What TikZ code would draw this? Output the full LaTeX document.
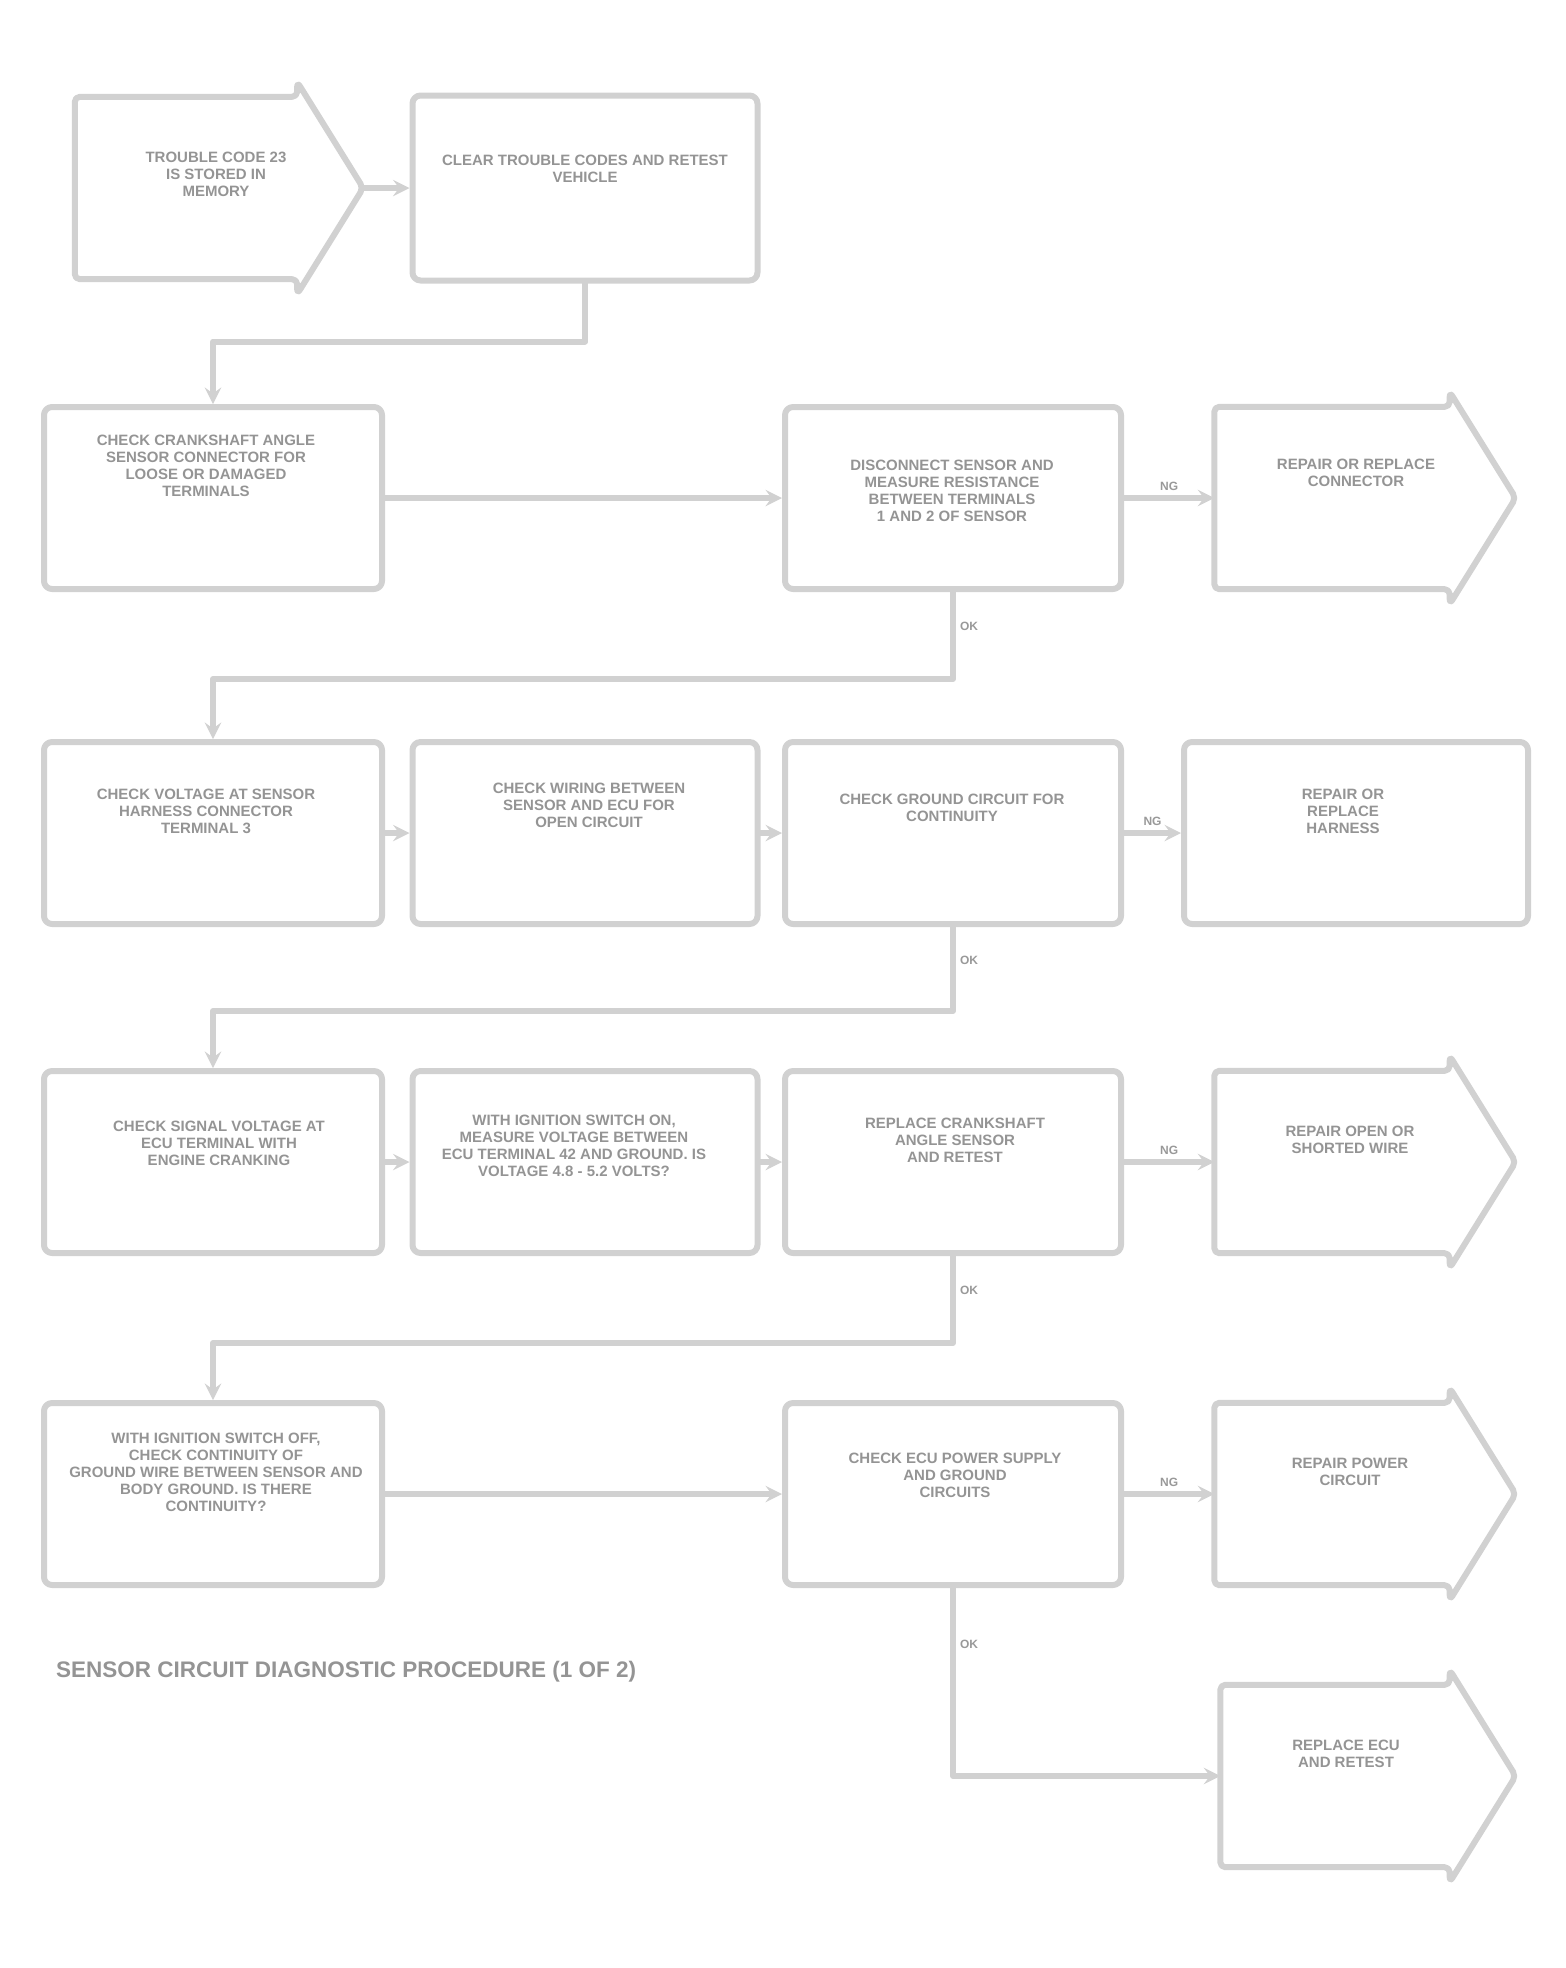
\documentclass[tikz,border=0pt]{standalone}
\usepackage{fontspec}
\setmainfont{Liberation Sans}
\begin{document}
\begin{tikzpicture}[line join=round, line cap=round, >=stealth, x=1pt, y=-1pt,
    font=\fontsize{15}{17}\selectfont\bfseries,
    box/.style={draw=black!18, line width=6pt, rounded corners=8pt, minimum width=340pt, minimum height=182pt, inner sep=0pt},
    arrowbox/.style={minimum width=300pt, minimum height=182pt, inner sep=0pt},
    txt/.style={text=black!42, align=center, inner sep=0pt},
    link/.style={draw=black!18, line width=6pt, ->},
    lbl/.style={text=black!40, font=\fontsize{12}{13}\selectfont\bfseries, inner sep=4pt}]
    \useasboundingbox (0,0) rectangle (1566,1968);
    % boxes
    \node[arrowbox, minimum width=288pt] (a) at (219,188) {};
    \node[box, minimum width=345pt, minimum height=185pt] (b) at (585,188) {};
    \node[box, minimum width=338pt] (c) at (213,498) {};
    \node[box, minimum width=336pt] (d) at (953,498) {};
    \node[arrowbox, minimum width=301pt] (e) at (1365,498) {};
    \node[box, minimum width=338pt] (f) at (213,833) {};
    \node[box, minimum width=345pt] (g) at (585,833) {};
    \node[box, minimum width=336pt] (h) at (953,833) {};
    \node[box, minimum width=344pt] (i) at (1356,833) {};
    \node[box, minimum width=338pt] (j) at (213,1162) {};
    \node[box, minimum width=345pt] (k) at (585,1162) {};
    \node[box, minimum width=336pt] (l) at (953,1162) {};
    \node[arrowbox, minimum width=301pt] (m) at (1365,1162) {};
    \node[box, minimum width=338pt] (n) at (213,1494) {};
    \node[box, minimum width=336pt] (o) at (953,1494) {};
    \node[arrowbox, minimum width=301pt] (p) at (1365,1494) {};
    \node[arrowbox, minimum width=295pt] (q) at (1368,1776) {};
    \foreach \n in {a,e,m,p,q}
        \draw[draw=black!18, line width=6pt, rounded corners=5pt]
        ([xshift=-66pt]\n.north east) -- (\n.north west) -- (\n.south west) -- ([xshift=-66pt]\n.south east)
        -- ([xshift=-66pt,yshift=-15pt]\n.south east) -- (\n.east) -- ([xshift=-66pt,yshift=15pt]\n.north east) -- cycle;
    % texts
    \node[txt] (a-t) at (216,174) {TROUBLE CODE 23\\IS STORED IN\\MEMORY};
    \node[txt] (b-t) at (585,169) {CLEAR TROUBLE CODES AND RETEST\\VEHICLE};
    \node[txt] (c-t) at (206,466) {CHECK CRANKSHAFT ANGLE\\SENSOR CONNECTOR FOR\\LOOSE OR DAMAGED\\TERMINALS};
    \node[txt] (d-t) at (952,491) {DISCONNECT SENSOR AND\\MEASURE RESISTANCE\\BETWEEN TERMINALS\\1 AND 2 OF SENSOR};
    \node[txt] (e-t) at (1356,473) {REPAIR OR REPLACE\\CONNECTOR};
    \node[txt] (f-t) at (206,811) {CHECK VOLTAGE AT SENSOR\\HARNESS CONNECTOR\\TERMINAL 3};
    \node[txt] (g-t) at (589,805) {CHECK WIRING BETWEEN\\SENSOR AND ECU FOR\\OPEN CIRCUIT};
    \node[txt] (h-t) at (952,808) {CHECK GROUND CIRCUIT FOR\\CONTINUITY};
    \node[txt] (i-t) at (1343,811) {REPAIR OR\\REPLACE\\HARNESS};
    \node[txt] (j-t) at (219,1143) {CHECK SIGNAL VOLTAGE AT\\ECU TERMINAL WITH\\ENGINE CRANKING};
    \node[txt] (k-t) at (574,1146) {WITH IGNITION SWITCH ON,\\MEASURE VOLTAGE BETWEEN\\ECU TERMINAL 42 AND GROUND. IS\\VOLTAGE 4.8 - 5.2 VOLTS?};
    \node[txt] (l-t) at (955,1140) {REPLACE CRANKSHAFT\\ANGLE SENSOR\\AND RETEST};
    \node[txt] (m-t) at (1350,1140) {REPAIR OPEN OR\\SHORTED WIRE};
    \node[txt] (n-t) at (216,1472) {WITH IGNITION SWITCH OFF,\\CHECK CONTINUITY OF\\GROUND WIRE BETWEEN SENSOR AND\\BODY GROUND. IS THERE\\CONTINUITY?};
    \node[txt] (o-t) at (955,1475) {CHECK ECU POWER SUPPLY\\AND GROUND\\CIRCUITS};
    \node[txt] (p-t) at (1350,1472) {REPAIR POWER\\CIRCUIT};
    \node[txt] (q-t) at (1346,1754) {REPLACE ECU\\AND RETEST};
    \node[txt, anchor=west, font=\fontsize{22.5}{24}\selectfont\bfseries] (note) at (56,1672) {SENSOR CIRCUIT DIAGNOSTIC PROCEDURE (1 OF 2)};
    % connectors
    \draw[link] (a.east) -- (b.west);
    \draw[link] (b.south) -- ++(0,58) -| (c.north);
    \draw[link] (c.east) -- (d.west);
    \draw[link] (d.east) -- node[lbl, above] (ng1) {NG} (e.west);
    \draw[link] (d.south) -- node[lbl, right, pos=.4] (ok1) {OK} ++(0,87) -| (f.north);
    \draw[link] (f.east) -- (g.west);
    \draw[link] (g.east) -- (h.west);
    \draw[link] (h.east) -- node[lbl, above] (ng2) {NG} (i.west);
    \draw[link] (h.south) -- node[lbl, right, pos=.4] (ok2) {OK} ++(0,84) -| (j.north);
    \draw[link] (j.east) -- (k.west);
    \draw[link] (k.east) -- (l.west);
    \draw[link] (l.east) -- node[lbl, above] (ng3) {NG} (m.west);
    \draw[link] (l.south) -- node[lbl, right, pos=.4] (ok3) {OK} ++(0,87) -| (n.north);
    \draw[link] (n.east) -- (o.west);
    \draw[link] (o.east) -- node[lbl, above] (ng4) {NG} (p.west);
    \draw[link] (o.south) |- node[lbl, right, pos=.15] (ok4) {OK} (q.west);
\end{tikzpicture}
\end{document}
